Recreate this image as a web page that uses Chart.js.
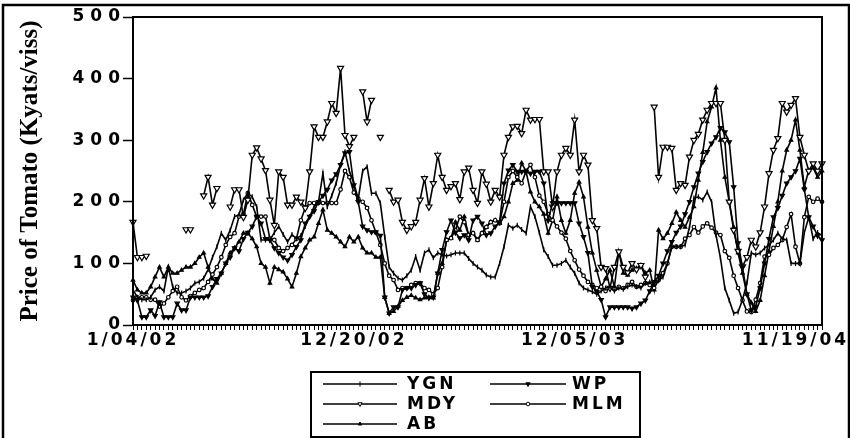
<!DOCTYPE html>
<html>
<head>
<meta charset="utf-8">
<script src="https://cdn.jsdelivr.net/npm/chart.js@4/dist/chart.umd.min.js"></script>
<style>
  html, body { margin: 0; padding: 0; background: #fff; }
  #wrap { position: relative; width: 850px; height: 438px; }
</style>
</head>
<body>
<div id="wrap"><canvas id="chart" width="850" height="438"></canvas></div>
<script>
// Weekly tomato prices (Kyats/viss), first week 1/04/02, one value per week.
const tickLabels = ['1/04/02', '12/20/02', '12/05/03', '11/19/04'];
const tickWeeks = [0, 50, 100, 150];
const seriesNames = ['YGN', 'WP', 'MDY', 'MLM', 'AB'];

const ygn = [57,45,41,41,45,57,62,55,94,62,
  52,52,55,60,68,70,76,90,110,127,
  149,138,154,176,179,203,214,208,192,138,
  138,138,150,160,147,135,147,140,145,160,
  176,192,200,246,192,210,230,260,281,250,
  230,205,250,257,214,214,198,143,94,84,
  76,73,80,89,111,89,117,122,109,117,
  114,112,114,117,117,117,108,100,94,89,
  81,78,78,100,127,162,157,162,155,149,
  192,176,150,122,111,97,97,100,105,94,
  84,68,60,57,54,50,55,60,62,55,
  60,58,62,65,62,60,68,70,68,72,
  78,100,127,127,127,130,159,206,208,203,
  216,200,146,109,60,40,19,21,41,68,
  117,114,117,125,130,138,149,140,138,100,
  100,100,150,175,140,150,145];

const wp = [45,40,13,13,24,15,37,13,13,13,
  35,24,24,45,45,45,45,47,62,75,
  84,100,110,125,120,140,150,160,176,165,
  140,138,125,117,110,105,114,127,138,165,
  176,185,200,210,220,235,245,260,279,281,
  227,200,160,154,151,151,145,45,19,29,
  29,57,60,60,65,68,50,44,45,84,
  122,151,170,150,141,146,138,170,176,165,
  146,149,160,167,230,251,260,249,249,249,
  246,249,249,230,170,198,198,198,198,198,
  198,165,143,117,62,54,41,13,29,29,
  29,29,29,27,29,35,40,55,70,80,
  100,120,135,150,160,180,200,224,246,265,
  281,295,305,320,313,297,224,133,94,50,
  24,30,60,100,140,175,190,210,230,240,
  250,270,220,175,160,145,138];

const mdy = [167,110,110,112,null,null,null,null,null,null,
  null,null,155,155,null,null,210,240,195,222,
  null,null,192,220,220,175,203,276,288,270,
  251,203,162,249,240,195,195,208,200,190,
  249,322,305,305,330,360,344,417,308,290,
  305,null,379,330,365,null,305,null,219,200,
  203,167,154,160,167,203,238,192,230,276,
  240,219,225,230,204,249,255,219,198,249,
  229,200,219,208,276,305,322,323,311,349,
  333,334,334,249,249,192,249,276,287,276,
  333,249,276,260,170,157,94,92,60,94,
  119,94,85,100,90,97,78,null,354,240,
  289,289,287,219,230,227,273,300,310,333,
  349,360,360,360,300,200,154,120,95,110,
  138,127,150,192,246,284,303,360,346,357,
  368,305,276,250,262,250,262];

const mlm = [40,45,45,45,41,41,30,35,45,55,
  62,45,40,47,52,57,60,70,82,94,
  110,130,143,149,176,180,214,195,176,176,
  176,140,138,125,120,125,130,140,170,190,
  198,198,198,198,198,198,198,220,250,240,
  215,205,200,190,170,150,130,100,80,73,
  57,60,60,65,68,68,60,57,50,60,
  94,138,141,154,176,167,146,149,138,149,
  159,167,170,165,200,240,250,240,230,250,
  260,240,210,200,180,170,160,150,140,120,
  105,90,80,70,65,60,62,55,60,58,
  62,60,65,70,62,65,68,65,60,73,
  84,100,127,127,127,140,146,159,150,160,
  165,158,150,146,120,109,80,60,40,22,
  21,41,68,111,114,125,130,138,159,180,
  127,100,175,208,200,205,200];

const ab = [73,57,52,52,62,78,94,78,94,84,
  84,89,94,94,100,110,117,94,75,68,
  84,100,117,125,135,149,149,140,127,100,
  94,68,94,90,86,75,62,84,111,125,
  138,143,165,187,154,149,143,135,127,143,
  135,143,125,117,117,110,110,45,19,22,
  30,40,45,48,44,41,44,45,44,84,
  100,138,141,167,154,176,146,149,138,149,
  159,167,170,165,176,200,230,235,263,249,
  216,200,192,180,149,170,208,170,149,170,
  214,232,208,159,117,89,62,75,89,62,
  119,84,81,89,92,97,84,89,57,154,
  140,149,165,183,170,159,175,192,235,280,
  330,354,385,300,240,200,159,117,84,50,
  36,22,40,80,120,160,200,250,284,300,
  333,284,224,251,255,240,250];

const weekIndex = ygn.map((_, i) => i);

// Extra spacing between tick-label characters, per axis
const labelSpacing = { x: 3, y: 6 };

class SpacedCategoryScale extends Chart.CategoryScale {
  drawLabels(area) {
    const ctx = this.ctx;
    ctx.save();
    ctx.letterSpacing = (labelSpacing[this.id] || 0) + 'px';
    super.drawLabels(area);
    ctx.restore();
  }
}
SpacedCategoryScale.id = 'spacedCategory';
SpacedCategoryScale.defaults = Chart.CategoryScale.defaults;

class SpacedLinearScale extends Chart.LinearScale {
  drawLabels(area) {
    const ctx = this.ctx;
    ctx.save();
    ctx.letterSpacing = (labelSpacing[this.id] || 0) + 'px';
    super.drawLabels(area);
    ctx.restore();
  }
}
SpacedLinearScale.id = 'spacedLinear';
SpacedLinearScale.defaults = Chart.LinearScale.defaults;

Chart.register(SpacedCategoryScale, SpacedLinearScale);

const black = '#000';
const styles = [
  { data: ygn, pointStyle: 'line', rotation: 90, radius: 2.5, fill: black },
  { data: wp, pointStyle: 'triangle', rotation: 180, radius: 2.5, fill: black },
  { data: mdy, pointStyle: 'triangle', rotation: 180, radius: 3.5, fill: '#fff' },
  { data: mlm, pointStyle: 'circle', rotation: 0, radius: 1.8, fill: '#fff' },
  { data: ab, pointStyle: 'triangle', rotation: 0, radius: 2, fill: black }
];

const datasets = styles.map((s, k) => ({
  label: seriesNames[k],
  data: s.data,
  borderColor: black,
  borderWidth: 1.6,
  backgroundColor: s.fill,
  pointStyle: s.pointStyle,
  pointRotation: s.rotation,
  pointRadius: s.radius,
  pointBorderColor: black,
  pointBorderWidth: 1.2,
  pointBackgroundColor: s.fill,
  spanGaps: false,
  tension: 0
}));

// Plot frame and the outer border of the figure
const framePlugin = {
  id: 'frame',
  afterDraw(chart) {
    const { ctx, chartArea: a } = chart;
    ctx.save();
    ctx.strokeStyle = black;
    ctx.lineWidth = 2;
    ctx.strokeRect(a.left, a.top, a.right - a.left, a.bottom - a.top);
    ctx.lineWidth = 2.5;
    ctx.strokeRect(3, 5, 846, 450);
    ctx.restore();
  }
};

// Boxed legend below the axis: line sample with the series marker, then the name
const legendPlugin = {
  id: 'boxLegend',
  afterDraw(chart) {
    const ctx = chart.ctx;
    const box = { left: 311, top: 372, right: 640, bottom: 437 };
    const cols = [{ x0: 323, x1: 397, tx: 407 }, { x0: 490, x1: 566, tx: 572 }];
    const rows = [384, 404, 424];
    const slots = [[0, 0], [1, 0], [0, 1], [1, 1], [0, 2]];
    ctx.save();
    ctx.strokeStyle = black;
    ctx.lineWidth = 2;
    ctx.strokeRect(box.left, box.top, box.right - box.left, box.bottom - box.top);
    chart.data.datasets.forEach((ds, k) => {
      const c = cols[slots[k][0]];
      const y = rows[slots[k][1]];
      ctx.lineWidth = 1.6;
      ctx.strokeStyle = black;
      ctx.beginPath();
      ctx.moveTo(c.x0, y);
      ctx.lineTo(c.x1, y);
      ctx.stroke();
      ctx.fillStyle = ds.pointBackgroundColor;
      ctx.lineWidth = 1;
      Chart.helpers.drawPoint(ctx, {
        pointStyle: ds.pointStyle, rotation: ds.pointRotation,
        radius: Math.min(ds.pointRadius, 2.5), borderWidth: 1
      }, (c.x0 + c.x1) / 2, y);
      ctx.fillStyle = black;
      ctx.font = 'bold 17px "DejaVu Sans"';
      ctx.letterSpacing = '3px';
      ctx.textAlign = 'left';
      ctx.textBaseline = 'middle';
      ctx.fillText(ds.label, c.tx, y + 1);
      ctx.letterSpacing = '0px';
    });
    ctx.restore();
  }
};

const tickFont = { family: '"DejaVu Sans"', size: 17, weight: 'bold' };

new Chart(document.getElementById('chart'), {
  type: 'line',
  data: { labels: weekIndex, datasets },
  options: {
    responsive: false,
    animation: false,
    events: [],
    layout: { padding: { left: 0, right: 28, top: 17, bottom: 0 } },
    plugins: { legend: { display: false }, tooltip: { enabled: false } },
    scales: {
      x: {
        type: 'spacedCategory',
        offset: false,
        afterFit(scale) { scale.height = 113; },
        grid: { drawOnChartArea: false, drawTicks: true, tickLength: 5, tickColor: black, tickWidth: 1 },
        border: { display: true, color: black, width: 2 },
        ticks: {
          autoSkip: false, maxRotation: 0, minRotation: 0, padding: 0,
          color: black, font: tickFont,
          callback(value, index) {
            const k = tickWeeks.indexOf(index);
            return k >= 0 ? tickLabels[k] : '';
          }
        }
      },
      y: {
        type: 'spacedLinear',
        min: 0, max: 500,
        afterFit(scale) { scale.width = 133; },
        grid: { drawOnChartArea: false, drawTicks: true, tickLength: 10, tickColor: black, tickWidth: 1.5 },
        border: { display: true, color: black, width: 2 },
        ticks: { stepSize: 100, padding: -3, color: black, font: tickFont },
        title: {
          display: true,
          text: 'Price of Tomato (Kyats/viss)',
          color: black,
          font: { family: '"Liberation Serif"', size: 25, weight: 'bold' },
          padding: { top: 16, bottom: 0 }
        }
      }
    }
  },
  plugins: [framePlugin, legendPlugin]
});
</script>
</body>
</html>
